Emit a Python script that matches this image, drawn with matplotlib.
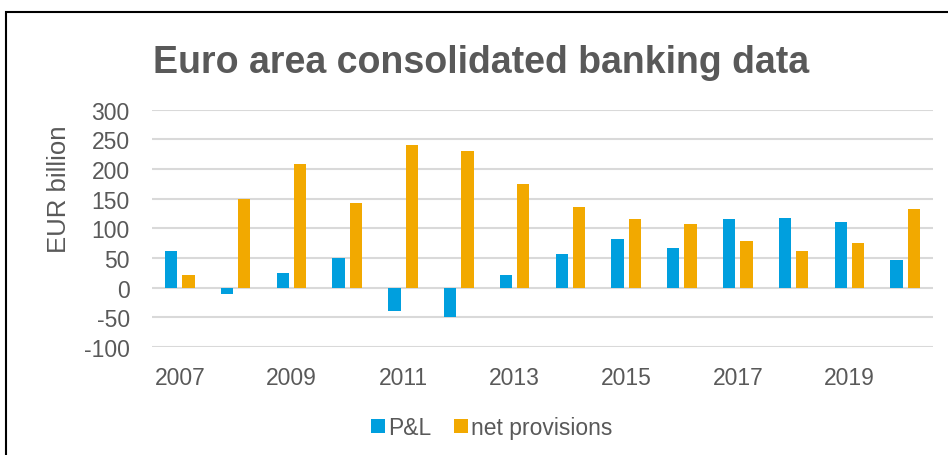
import numpy as np
import matplotlib.pyplot as plt
from matplotlib.patches import Rectangle

years = np.arange(2007, 2021)
pnl = [61, -11, 25, 50, -40, -50, 21, 57, 82, 67, 115, 118, 111, 46]
net_provisions = [21, 150, 208, 143, 240, 230, 175, 136, 115, 107, 79, 61, 75, 133]
tick_years = [2007, 2009, 2011, 2013, 2015, 2017, 2019]

blue = '#009FDE'
orange = '#F2A900'
grey_txt = '#595959'

plt.rcParams['font.family'] = ['Liberation Sans', 'DejaVu Sans']
plt.rcParams['axes.unicode_minus'] = False

fig = plt.figure(figsize=(9.48, 4.56), dpi=100)
# outer frame of the chart box
fig.patches.append(Rectangle((6 / 948, -0.1), 1.2, (456 - 13) / 456 + 0.1,
                             transform=fig.transFigure, fill=False,
                             edgecolor='black', linewidth=1.5))

ax = fig.add_axes([152 / 948, 1 - 348 / 456, (933 - 152) / 948, (348 - 110.7) / 456])

x = np.arange(len(years))
w = 0.22
ax.bar(x - 0.155, pnl, w, color=blue, label='P&L', zorder=3)
ax.bar(x + 0.155, net_provisions, w, color=orange, label='net provisions', zorder=3)

ax.set_xlim(-0.5, len(years) - 0.5)
ax.set_ylim(-100, 300)
ax.set_yticks(np.arange(-100, 301, 50))
ax.yaxis.grid(True, color='#D9D9D9', linewidth=1.5, zorder=0)
ax.set_xticks([list(years).index(y) for y in tick_years])
ax.set_xticklabels([str(y) for y in tick_years])
ax.tick_params(axis='both', length=0, labelsize=16.5, labelcolor=grey_txt)
ax.tick_params(axis='x', pad=14)
ax.tick_params(axis='y', pad=16)
for s in ax.spines.values():
    s.set_visible(False)

ax.set_ylabel('EUR billion', fontsize=18.5, color=grey_txt)
ax.yaxis.set_label_coords(-0.104, 0.67)

fig.text(0.507, 0.862, 'Euro area consolidated banking data', ha='center', va='center',
         fontsize=27, fontweight='bold', color=grey_txt)

ax.legend(loc='center', bbox_to_anchor=(0.435, -0.34), ncol=2, frameon=False,
          fontsize=16.5, labelcolor=grey_txt, handlelength=0.6, handleheight=0.6,
          handletextpad=0.15, columnspacing=1.0)

fig.savefig('out.png', dpi=100)
